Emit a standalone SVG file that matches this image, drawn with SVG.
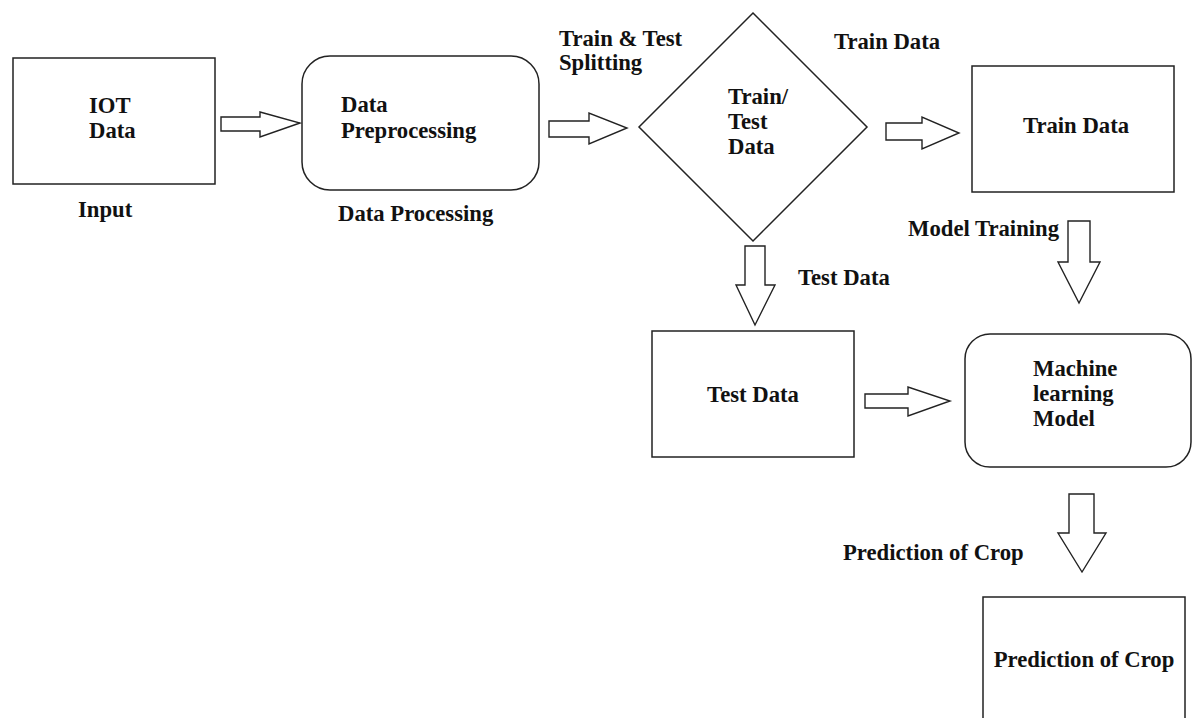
<svg xmlns="http://www.w3.org/2000/svg" width="1192" height="718" viewBox="0 0 1192 718">
<style>
.box{fill:#fff;stroke:#222;stroke-width:1.5}
.arr{fill:#fff;stroke:#222;stroke-width:1.4;stroke-linejoin:miter}
text{font-family:"Liberation Serif","Times New Roman",serif;font-weight:bold;font-size:22.7px;fill:#111}
.c{text-anchor:middle}
</style>
<rect width="1192" height="718" fill="#fff"/>
<g id="connectors">
<polygon class="arr" points="221,117 260,117 260,112 300,123 260,137 260,131 221,131"/>
<polygon class="arr" points="549,121 589,121 589,113 627,128 589,144 589,137 549,137"/>
<polygon class="arr" points="886,123 922,123 922,117 959,133 922,149 922,140 886,140"/>
<polygon class="arr" points="865,394 908,394 908,387 950,401 908,416 908,408 865,408"/>
<polygon class="arr" points="745,246 765,246 765,285 775,285 755,325 736,285 745,285"/>
<polygon class="arr" points="1068,221 1090,221 1090,262 1100,262 1079,303 1058,262 1068,262"/>
<polygon class="arr" points="1069,494 1094,494 1094,533 1106,533 1082,572 1058,533 1069,533"/>
</g>
<g id="labels">
<text x="78" y="217">Input</text>
<text x="338" y="221">Data Processing</text>
<text x="559" y="46">Train &amp; Test</text>
<text x="559" y="70">Splitting</text>
<text x="834" y="49">Train Data</text>
<text x="908" y="236">Model Training</text>
<text x="798" y="285">Test Data</text>
<text x="843" y="560">Prediction of Crop</text>
</g>
<g id="iot">
<rect class="box" x="13" y="58" width="202" height="126"/>
<text x="89" y="113">IOT</text>
<text x="89" y="138">Data</text>
</g>
<g id="preprocessing">
<rect class="box" x="302" y="56" width="237" height="134" rx="28" ry="28"/>
<text x="341" y="112">Data</text>
<text x="341" y="138">Preprocessing</text>
</g>
<g id="split">
<polygon class="box" points="753,13 867,127 753,241 639,127"/>
<text x="728" y="104">Train/</text>
<text x="728" y="129">Test</text>
<text x="728" y="154">Data</text>
</g>
<g id="train">
<rect class="box" x="972" y="66" width="202" height="126"/>
<text class="c" x="1076" y="133">Train Data</text>
</g>
<g id="test">
<rect class="box" x="652" y="331" width="202" height="126"/>
<text class="c" x="753" y="402">Test Data</text>
</g>
<g id="model">
<rect class="box" x="965" y="334" width="226" height="133" rx="25" ry="25"/>
<text x="1033" y="376">Machine</text>
<text x="1033" y="401">learning</text>
<text x="1033" y="426">Model</text>
</g>
<g id="prediction">
<rect class="box" x="983" y="597" width="202" height="140"/>
<text class="c" x="1084" y="667">Prediction of Crop</text>
</g>
</svg>
